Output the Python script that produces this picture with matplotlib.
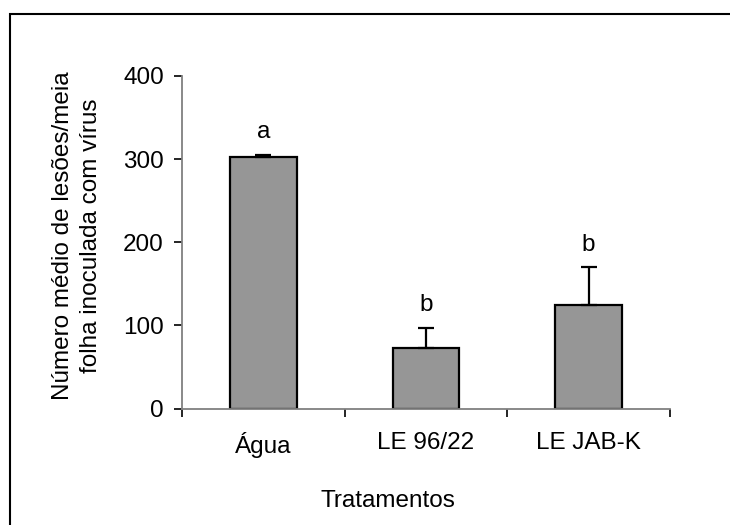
import matplotlib
matplotlib.use("Agg")
import matplotlib.pyplot as plt
from matplotlib.patches import Rectangle

treatments = ["Água", "LE 96/22", "LE JAB-K"]
mean_lesions = [302, 73, 125]
error_up = [3, 24, 45]
letters = ["a", "b", "b"]
y_ticks = [0, 100, 200, 300, 400]

plt.rcParams["font.family"] = ["Liberation Sans", "DejaVu Sans"]
FS = 17.5

fig = plt.figure(figsize=(7.3, 5.25), dpi=100)
ax = fig.add_axes([182 / 730, 1 - 408.5 / 525, (670 - 182) / 730, (408.5 - 76) / 525])

x = list(range(len(treatments)))
ax.bar(x, mean_lesions, width=0.41, color="#969696", edgecolor="black", linewidth=1.6, zorder=2)
ax.errorbar(x, mean_lesions, yerr=[[0] * len(x), error_up], fmt="none",
            ecolor="black", elinewidth=1.6, capsize=5.5, capthick=1.6, zorder=3)

for xi, m, e, lab in zip(x, mean_lesions, error_up, letters):
    ax.annotate(lab, (xi, m + e), xytext=(0, 12), textcoords="offset points",
                ha="center", va="baseline", fontsize=FS)

ax.set_xlim(-0.5, 2.5)
ax.set_ylim(0, 400)
ax.set_yticks(y_ticks)
ax.set_xticks(x)
ax.set_xticklabels(treatments)
ax.set_xticks([-0.5, 0.5, 1.5, 2.5], minor=True)
ax.tick_params(axis="x", which="major", length=0, pad=17, labelsize=FS)
ax.tick_params(axis="x", which="minor", length=6, width=1.2, direction="out", color="black")
ax.tick_params(axis="y", length=6, width=1.2, direction="out", labelsize=FS, pad=7, color="black")

for side in ("top", "right"):
    ax.spines[side].set_visible(False)
for side in ("left", "bottom"):
    ax.spines[side].set_color("#808080")
    ax.spines[side].set_linewidth(1.3)

fig.text(388 / 730, 1 - 507 / 525, "Tratamentos", fontsize=FS,
         ha="center", va="baseline")
fig.text(77 / 730, 1 - 236 / 525, "Número médio de lesões/meia\nfolha inoculada com vírus",
         fontsize=FS, rotation=90, ha="center", va="center",
         multialignment="center", linespacing=1.38)

fig.patches.append(Rectangle((9.5 / 730, -0.2), 1.2, 1.2 - 13.5 / 525,
                             transform=fig.transFigure, fill=False,
                             edgecolor="black", linewidth=1.5))

fig.savefig("out.png", dpi=100)
